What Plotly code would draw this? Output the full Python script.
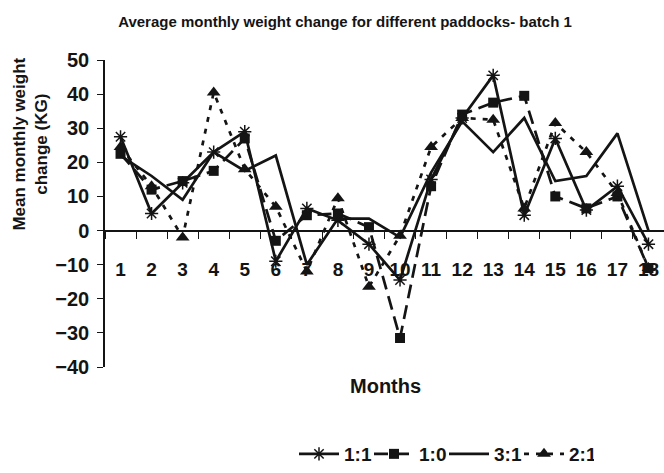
import plotly.graph_objects as go

months = [str(i) for i in range(1, 19)]
s_11 = [27.5, 5, 14, 23, 29, -9, 6.5, 3, -4, -14.5, 15, 33, 45.5, 4.5, 27, 6, 13, -4]
s_10 = [22.5, 12, 14.5, 17.5, 27, -3, 4.5, 5, 1, -31.5, 13, 34, 37.5, 39.5, 10, 6.5, 10, -11]
s_31 = [22, 16, 9, 23, 17.5, 22, -10, 3.5, 3.5, -2, 17, 32, 23, 33, 14.5, 16, 28.5, 0]
s_21 = [24.5, 13, -2, 40.5, 18, 7, -12, 9.5, -16.5, -1.5, 24.5, 33, 32.5, 6.5, 31.5, 23, 11, -11]
y_ticks = [-40, -30, -20, -10, 0, 10, 20, 30, 40, 50]

FONT = "Liberation Sans, Arial"
INK = "#141414"

fig = go.Figure()
fig.add_trace(go.Scatter(x=months, y=s_11, name="1:1", mode="lines+markers",
                         line=dict(color=INK, width=2.7),
                         marker=dict(symbol="asterisk-open", size=11, line=dict(color=INK, width=1.5))))
fig.add_trace(go.Scatter(x=months, y=s_10, name="1:0", mode="lines+markers",
                         line=dict(color=INK, width=2.7, dash="14px,7px"),
                         marker=dict(symbol="square", size=10, color=INK)))
fig.add_trace(go.Scatter(x=months, y=s_31, name="3:1", mode="lines",
                         line=dict(color=INK, width=2.7)))
fig.add_trace(go.Scatter(x=months, y=s_21, name="2:1", mode="lines+markers",
                         line=dict(color=INK, width=2.7, dash="5px,7px"),
                         marker=dict(symbol="triangle-up", size=12, color=INK)))

fig.update_layout(
    width=664, height=473,
    margin=dict(l=105, r=0, t=60, b=101),
    paper_bgcolor="white", plot_bgcolor="white",
    font=dict(family=FONT, color=INK, weight="bold"),
    title=dict(text="Average monthly weight change for different paddocks- batch 1",
               x=345 / 664, xanchor="center", y=1 - 22 / 473, yanchor="middle",
               font=dict(family=FONT, size=15, color=INK, weight="bold")),
    xaxis=dict(type="category", range=[-0.5, 17.5], anchor="free", position=40 / 90,
               showline=True, linecolor=INK, linewidth=1.5,
               ticks="outside", ticklen=8, tickcolor=INK, tickwidth=1.2,
               tickson="boundaries", showgrid=False, zeroline=False, tickangle=0,
               automargin=False,
               tickfont=dict(family=FONT, size=19, color=INK, weight="bold"),
               ticklabelstandoff=22),
    yaxis=dict(range=[-40, 50], tickvals=y_ticks, showline=True, linecolor=INK, linewidth=1.5,
               ticks="outside", ticklen=6, tickcolor=INK, tickwidth=1.2,
               showgrid=False, zeroline=False, ticklabelstandoff=4, automargin=False,
               tickfont=dict(family=FONT, size=20, color=INK, weight="bold")),
    legend=dict(orientation="h", x=(444 - 105) / 559, xanchor="center",
                y=-(461 - 372) / 312, yanchor="middle",
                font=dict(family=FONT, size=19, color=INK, weight="bold"),
                itemwidth=40, tracegroupgap=0, entrywidth=20, entrywidthmode="pixels"),
    annotations=[
        dict(text="Months", xref="paper", yref="paper", x=(385 - 105) / 559, y=-(391 - 372) / 312,
             xanchor="center", yanchor="middle", showarrow=False,
             font=dict(family=FONT, size=20, color=INK, weight="bold")),
        dict(text="Mean monthly weight<br>change (KG)", xref="paper", yref="paper",
             x=(31 - 105) / 559, y=(372 - 146) / 312, xanchor="center", yanchor="middle",
             textangle=-90, showarrow=False,
             font=dict(family=FONT, size=17, color=INK, weight="bold")),
    ],
)

fig.write_html("out.html", config={"displayModeBar": False},
               post_script="document.body.style.margin='0';document.body.style.overflow='hidden';")
